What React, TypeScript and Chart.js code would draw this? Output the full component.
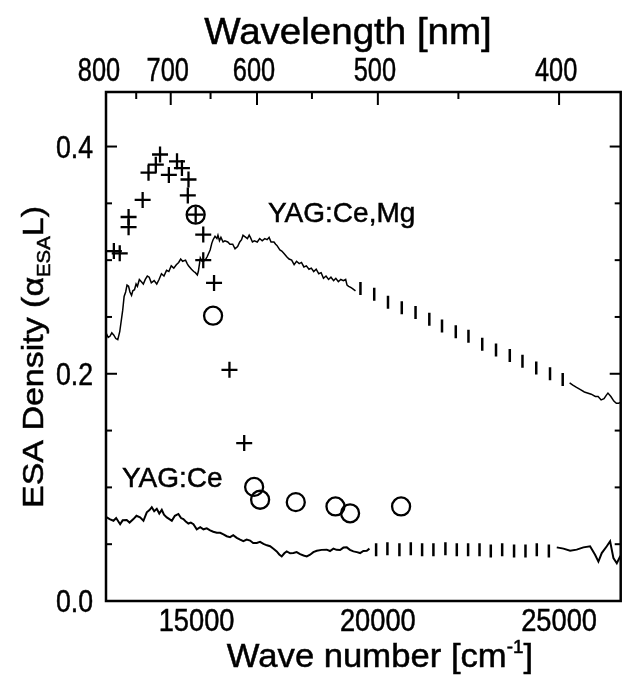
import React, { useEffect, useRef } from 'react';
import { Chart, registerables } from 'chart.js';

Chart.register(...registerables);

const X_MIN = 12500;
const X_MAX = 26700;
const Y_MIN = 0;
const Y_MAX = 0.448;

// YAG:Ce,Mg trace — solid, low wavenumber part
const ceMgWaveA = [12500, 12560, 12608, 12660, 12717, 12770, 12825, 12879, 12961, 13000, 13042, 13080, 13123, 13160, 13205, 13240, 13286, 13330, 13367, 13420, 13476, 13530, 13584, 13640, 13692, 13750, 13828, 13900, 13963, 14030, 14099, 14170, 14234, 14300, 14370, 14440, 14505, 14560, 14614, 14695, 14740, 14776, 14858, 14920, 14966, 15020, 15047, 15080, 15102, 15150, 15183, 15237, 15290, 15318, 15373, 15420, 15454, 15508, 15560, 15589, 15630, 15671, 15730, 15779, 15860, 15920, 15996, 16060, 16131, 16190, 16240, 16280, 16321, 16402, 16450, 16484, 16540, 16592, 16673, 16740, 16809, 16880, 16944, 17000, 17053, 17134, 17180, 17215, 17297, 17350, 17405, 17486, 17550, 17622, 17690, 17757, 17830, 17893, 17960, 18028, 18100, 18164, 18230, 18299, 18370, 18435, 18500, 18570, 18640, 18706, 18780, 18841, 18910, 18977, 19050, 19112, 19150, 19194, 19250, 19302, 19383];
const ceMgDensA = [0.236, 0.232, 0.233, 0.236, 0.234, 0.231, 0.230, 0.237, 0.256, 0.268, 0.272, 0.278, 0.277, 0.272, 0.269, 0.273, 0.274, 0.279, 0.277, 0.283, 0.281, 0.279, 0.283, 0.286, 0.285, 0.280, 0.282, 0.279, 0.283, 0.288, 0.286, 0.291, 0.290, 0.295, 0.293, 0.296, 0.298, 0.301, 0.299, 0.300, 0.297, 0.295, 0.292, 0.290, 0.289, 0.287, 0.290, 0.297, 0.302, 0.299, 0.299, 0.300, 0.303, 0.305, 0.309, 0.315, 0.318, 0.321, 0.319, 0.322, 0.317, 0.320, 0.316, 0.317, 0.316, 0.314, 0.314, 0.310, 0.312, 0.316, 0.318, 0.322, 0.321, 0.319, 0.322, 0.320, 0.316, 0.317, 0.316, 0.319, 0.317, 0.319, 0.318, 0.320, 0.316, 0.316, 0.314, 0.313, 0.309, 0.308, 0.306, 0.303, 0.301, 0.300, 0.296, 0.299, 0.297, 0.298, 0.294, 0.295, 0.292, 0.293, 0.290, 0.292, 0.288, 0.289, 0.284, 0.286, 0.283, 0.285, 0.282, 0.284, 0.281, 0.283, 0.282, 0.283, 0.278, 0.277, 0.276, 0.275, 0.273];

// YAG:Ce,Mg — dashed (vertical bar) stretch
const ceMgWaveDash = [19520, 19900, 20280, 20660, 21040, 21420, 21770, 22150, 22500, 22880, 23260, 23640, 23990, 24370, 24750, 25100];
const ceMgDensDash = [0.275, 0.270, 0.263, 0.258, 0.254, 0.248, 0.242, 0.237, 0.233, 0.226, 0.221, 0.216, 0.211, 0.205, 0.200, 0.195];

// YAG:Ce,Mg — solid, high wavenumber tail
const ceMgWaveB = [25291, 25380, 25481, 25590, 25698, 25887, 26000, 26077, 26160, 26240, 26300, 26348, 26429, 26511, 26580, 26646, 26700];
const ceMgDensB = [0.192, 0.190, 0.188, 0.186, 0.184, 0.182, 0.180, 0.180, 0.177, 0.178, 0.181, 0.183, 0.180, 0.176, 0.174, 0.174, 0.175];

// YAG:Ce trace — solid, low wavenumber part
const ceWaveA = [12500, 12522, 12600, 12706, 12780, 12890, 12960, 13072, 13150, 13256, 13340, 13440, 13533, 13625, 13700, 13763, 13830, 13901, 13970, 14039, 14100, 14177, 14250, 14316, 14400, 14497, 14570, 14635, 14700, 14774, 14840, 14912, 15004, 15100, 15188, 15280, 15373, 15460, 15557, 15650, 15741, 15830, 15923, 16010, 16107, 16200, 16291, 16380, 16476, 16560, 16660, 16750, 16844, 16940, 17028, 17120, 17210, 17280, 17348, 17420, 17486, 17580, 17671, 17760, 17855, 17950, 18039, 18131, 18220, 18316, 18450, 18590, 18680, 18774, 18860, 18958, 19050, 19142, 19230, 19326, 19420, 19511, 19600, 19695, 19768];
const ceDensA = [0.074, 0.0736, 0.072, 0.0706, 0.073, 0.0676, 0.071, 0.0712, 0.069, 0.0721, 0.075, 0.0736, 0.0706, 0.0781, 0.080, 0.0826, 0.079, 0.0811, 0.077, 0.0802, 0.076, 0.0736, 0.072, 0.0706, 0.075, 0.0766, 0.073, 0.0721, 0.070, 0.0682, 0.069, 0.0676, 0.0631, 0.065, 0.0631, 0.064, 0.0622, 0.061, 0.0601, 0.060, 0.0586, 0.057, 0.0562, 0.058, 0.0556, 0.054, 0.0526, 0.054, 0.0532, 0.051, 0.0511, 0.052, 0.0502, 0.049, 0.0482, 0.046, 0.0437, 0.041, 0.0392, 0.042, 0.0437, 0.042, 0.0422, 0.043, 0.0412, 0.040, 0.0392, 0.0407, 0.043, 0.0442, 0.045, 0.0452, 0.044, 0.0461, 0.045, 0.0448, 0.047, 0.0472, 0.045, 0.0437, 0.043, 0.0422, 0.044, 0.0442, 0.0461];

// YAG:Ce — dashed (vertical bar) stretch
const ceWaveDash = [19952, 20264, 20595, 20909, 21221, 21533, 21864, 22178, 22490, 22805, 23116, 23430, 23758, 24073, 24385, 24718];
const ceDensDash = [0.045, 0.046, 0.045, 0.046, 0.045, 0.045, 0.046, 0.045, 0.045, 0.045, 0.044, 0.045, 0.044, 0.044, 0.045, 0.044];

// YAG:Ce — solid, high wavenumber tail
const ceWaveB = [24936, 25121, 25305, 25486, 25671, 25855, 25993, 26085, 26177, 26316, 26408, 26500, 26592, 26684, 26700];
const ceDensB = [0.0472, 0.0461, 0.0442, 0.0452, 0.0472, 0.0482, 0.0407, 0.0347, 0.0422, 0.0482, 0.0526, 0.0377, 0.0332, 0.0392, 0.040];

// "+" markers
const plusWave = [12717, 12879, 13123, 13123, 13511, 13673, 13874, 13991, 14234, 14459, 14595, 14776, 14757, 14974, 15183, 15183, 15481, 15906, 16313];
const plusDens = [0.308, 0.306, 0.338, 0.329, 0.353, 0.377, 0.384, 0.393, 0.375, 0.387, 0.381, 0.371, 0.357, 0.340, 0.3225, 0.300, 0.280, 0.2035, 0.139];

// "o" markers
const circleWave = [14974, 15454, 16587, 16752, 17736, 18831, 19234, 20641];
const circleDens = [0.340, 0.2511, 0.1004, 0.0891, 0.0870, 0.0832, 0.0772, 0.0832];

// axis tick labels
const bottomTickLabels = [15000, 20000, 25000];
const leftTickLabels = [0.0, 0.2, 0.4];
const topTickNm = [800, 750, 700, 650, 600, 550, 500, 450, 400];
const topLabelNm = [800, 700, 600, 500, 400];

const FONT = '"Liberation Sans", Arial, Helvetica, sans-serif';
const INK = 0.5; // extra stroke to mimic the heavy scanned type

const pts = (xs: number[], ys: number[]) => xs.map((x, i) => ({ x, y: ys[i] }));

function ink(ctx: CanvasRenderingContext2D, text: string, x: number, y: number) {
  ctx.fillText(text, x, y);
  ctx.strokeText(text, x, y);
}

function drawFitted(ctx: CanvasRenderingContext2D, text: string, x: number, baseline: number, size: number, sx: number, align: 'left' | 'center' | 'right') {
  ctx.save();
  ctx.font = `${size}px ${FONT}`;
  const w = ctx.measureText(text).width * sx;
  const left = align === 'center' ? x - w / 2 : align === 'right' ? x - w : x;
  ctx.translate(left, baseline);
  ctx.scale(sx, 1);
  ctx.textAlign = 'left';
  ctx.textBaseline = 'alphabetic';
  ctx.fillStyle = '#000';
  ctx.strokeStyle = '#000';
  ctx.lineWidth = INK;
  ink(ctx, text, 0, 0);
  ctx.restore();
}

const isStep = (v: number, step: number) => Math.abs(v / step - Math.round(v / step)) < 1e-6;

const framePlugin = {
  id: 'frame',
  afterDatasetsDraw(chart: any) {
    const { ctx, chartArea: a, scales } = chart;
    const xs = scales.x, ys = scales.y, xt = scales.xTop;
    ctx.save();
    ctx.strokeStyle = '#000';
    ctx.lineCap = 'butt';
    const line = (x1: number, y1: number, x2: number, y2: number) => {
      ctx.beginPath(); ctx.moveTo(x1, y1); ctx.lineTo(x2, y2); ctx.stroke();
    };
    ctx.lineWidth = 2;
    xs.ticks.forEach((t: any) => {
      if (!isStep(t.value, 1000) || t.value <= X_MIN || t.value >= X_MAX) return;
      const x = xs.getPixelForValue(t.value);
      const len = isStep(t.value, 5000) ? 12 : 6;
      line(x, a.bottom, x, a.bottom - len);
    });
    ys.ticks.forEach((t: any) => {
      if (!isStep(t.value, 0.05) || t.value <= Y_MIN || t.value >= Y_MAX) return;
      const y = ys.getPixelForValue(t.value);
      const len = isStep(t.value, 0.2) ? 11 : 6;
      line(a.left, y, a.left + len, y);
      line(a.right, y, a.right - len, y);
    });
    xt.ticks.forEach((t: any) => {
      const nm = Math.round(1e7 / t.value);
      if (t.value <= X_MIN || t.value >= X_MAX) return;
      const x = xt.getPixelForValue(t.value);
      const len = nm % 100 === 0 ? 13 : 7;
      line(x, a.top, x, a.top + len);
    });
    ctx.lineWidth = 2.5;
    ctx.strokeRect(a.left, a.top, a.right - a.left, a.bottom - a.top);
    ctx.restore();
  },
  afterDraw(chart: any) {
    const { ctx, scales } = chart;
    const xs = scales.x, ys = scales.y, xt = scales.xTop;
    // left tick labels
    leftTickLabels.forEach((v) => {
      const y = ys.getPixelForValue(v);
      drawFitted(ctx, v.toFixed(1), 93, y + 11, 31, 0.86, 'right');
    });
    // bottom tick labels
    bottomTickLabels.forEach((v) => {
      const x = xs.getPixelForValue(v);
      drawFitted(ctx, String(v), x, 631, 31, 0.88, 'center');
    });
    // top tick labels (wavelength)
    topLabelNm.forEach((nm) => {
      const x = xt.getPixelForValue(1e7 / nm);
      drawFitted(ctx, String(nm), nm === 800 ? x - 7 : x - 3, 81, 33, 0.77, 'center');
    });
    // top title
    drawFitted(ctx, 'Wavelength [nm]', 348, 44, 36, 1.07, 'center');

    // bottom title with superscript
    ctx.save();
    const bSize = 33, supSize = 18, bsx = 1.05;
    ctx.font = `${bSize}px ${FONT}`;
    const b1 = 'Wave number [cm';
    const b3 = ']';
    const wb1 = ctx.measureText(b1).width;
    const wb3 = ctx.measureText(b3).width;
    ctx.font = `${supSize}px ${FONT}`;
    const wb2 = ctx.measureText('-1').width;
    const totalB = (wb1 + wb2 + wb3) * bsx;
    ctx.translate(380 - totalB / 2, 667);
    ctx.scale(bsx, 1);
    ctx.fillStyle = '#000';
    ctx.strokeStyle = '#000';
    ctx.lineWidth = INK;
    ctx.textBaseline = 'alphabetic';
    ctx.textAlign = 'left';
    ctx.font = `${bSize}px ${FONT}`;
    ink(ctx, b1, 0, 0);
    ctx.font = `${supSize}px ${FONT}`;
    ink(ctx, '-1', wb1, -14);
    ctx.font = `${bSize}px ${FONT}`;
    ink(ctx, b3, wb1 + wb2, 0);
    ctx.restore();

    // y title, rotated, with subscript
    ctx.save();
    const ySize = 30, subSize = 18;
    ctx.font = `${ySize}px ${FONT}`;
    const p1 = 'ESA Density (';
    const p2 = '\u03B1';
    const p4 = 'L)';
    const w1 = ctx.measureText(p1).width;
    const w2 = ctx.measureText(p2).width;
    const w4 = ctx.measureText(p4).width;
    ctx.font = `${subSize}px ${FONT}`;
    const w3 = ctx.measureText('ESA').width;
    const total = w1 + w2 + w3 + w4;
    const target = 302;
    const s = target / total;
    ctx.translate(43, 357 + target / 2);
    ctx.rotate(-Math.PI / 2);
    ctx.scale(s, 1);
    ctx.fillStyle = '#000';
    ctx.strokeStyle = '#000';
    ctx.lineWidth = INK;
    ctx.textBaseline = 'alphabetic';
    ctx.textAlign = 'left';
    ctx.font = `${ySize}px ${FONT}`;
    ink(ctx, p1, 0, 0);
    ink(ctx, p2, w1, 0);
    ctx.font = `${subSize}px ${FONT}`;
    ink(ctx, 'ESA', w1 + w2, 7);
    ctx.font = `${ySize}px ${FONT}`;
    ink(ctx, p4, w1 + w2 + w3, 0);
    ctx.restore();

    // series annotations
    drawFitted(ctx, 'YAG:Ce,Mg', 268, 222, 28, 1.0, 'left');
    drawFitted(ctx, 'YAG:Ce', 122, 487, 28, 1.0, 'left');
  },
};

export default function App() {
  const canvasRef = useRef<HTMLCanvasElement | null>(null);

  useEffect(() => {
    if (!canvasRef.current) return;
    const solid = (xs: number[], ys: number[], w: number) => ({
      type: 'line' as const,
      data: pts(xs, ys),
      borderColor: '#000',
      borderWidth: w,
      pointRadius: 0,
      tension: 0,
      fill: false,
      xAxisID: 'x',
      yAxisID: 'y',
    });
    const dash = (xs: number[], ys: number[]) => ({
      type: 'scatter' as const,
      data: pts(xs, ys),
      showLine: false,
      pointStyle: 'line' as const,
      rotation: 90,
      pointRadius: 6.5,
      pointBorderWidth: 2.5,
      pointBorderColor: '#000',
      pointBackgroundColor: '#000',
      xAxisID: 'x',
      yAxisID: 'y',
    });
    const chart = new Chart(canvasRef.current, {
      type: 'line',
      data: {
        datasets: [
          solid(ceMgWaveA, ceMgDensA, 1.5),
          dash(ceMgWaveDash, ceMgDensDash),
          solid(ceMgWaveB, ceMgDensB, 1.5),
          solid(ceWaveA, ceDensA, 2),
          dash(ceWaveDash, ceDensDash),
          solid(ceWaveB, ceDensB, 2),
          {
            type: 'scatter',
            data: pts(plusWave, plusDens),
            showLine: false,
            pointStyle: 'cross',
            pointRadius: 8,
            pointBorderWidth: 2.3,
            pointBorderColor: '#000',
            pointBackgroundColor: '#000',
            xAxisID: 'x',
            yAxisID: 'y',
          } as any,
          {
            type: 'scatter',
            data: pts(circleWave, circleDens),
            showLine: false,
            pointStyle: 'circle',
            pointRadius: 9,
            pointBorderWidth: 2.3,
            pointBorderColor: '#000',
            pointBackgroundColor: 'rgba(0,0,0,0)',
            xAxisID: 'x',
            yAxisID: 'y',
          } as any,
        ] as any,
      },
      options: {
        animation: false,
        responsive: false,
        devicePixelRatio: 1,
        events: [],
        layout: { padding: { left: 0, right: 1, top: 0, bottom: 0 } },
        plugins: { legend: { display: false }, tooltip: { enabled: false }, title: { display: false } },
        scales: {
          x: {
            type: 'linear',
            position: 'bottom',
            min: X_MIN,
            max: X_MAX,
            ticks: { display: false, stepSize: 1000 },
            grid: { display: false, drawTicks: false },
            border: { display: false },
            afterFit: (s: any) => { s.height = 76; },
          },
          xTop: {
            type: 'linear',
            position: 'top',
            min: X_MIN,
            max: X_MAX,
            ticks: { display: false },
            grid: { display: false, drawTicks: false },
            border: { display: false },
            afterBuildTicks: (s: any) => { s.ticks = topTickNm.map((nm) => ({ value: 1e7 / nm })); },
            afterFit: (s: any) => { s.height = 92; },
          },
          y: {
            type: 'linear',
            position: 'left',
            min: Y_MIN,
            max: Y_MAX,
            ticks: { display: false, stepSize: 0.05 },
            grid: { display: false, drawTicks: false },
            border: { display: false },
            afterFit: (s: any) => { s.width = 106; },
          },
        },
      } as any,
      plugins: [framePlugin as any],
    });
    return () => chart.destroy();
  }, []);

  return (
    <div style={{ position: 'fixed', left: 0, top: 0, width: 632, height: 677, background: '#fff' }}>
      <canvas ref={canvasRef} width={632} height={677} style={{ width: 632, height: 677, display: 'block' }} />
    </div>
  );
}
